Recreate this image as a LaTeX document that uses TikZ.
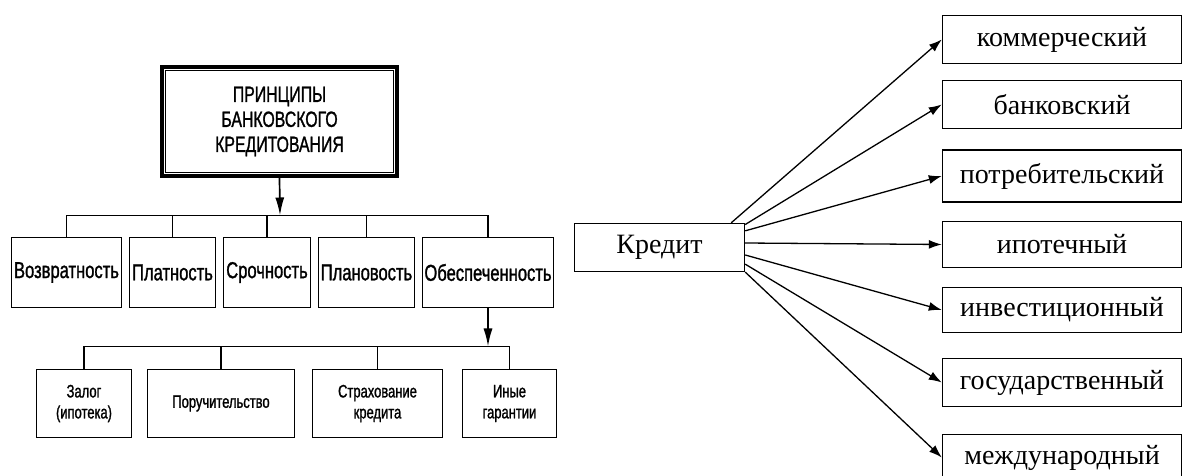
\documentclass[tikz,border=0pt]{standalone}
\usepackage{fontspec}
\setmainfont{Liberation Serif}
\newfontfamily\pfont{Liberation Sans}[FakeStretch=0.72,FakeBold=1.2]
\usetikzlibrary{arrows.meta,calc}

\tikzstyle{tbox}=[draw,line width=3.5pt,minimum width=235pt,minimum height=109pt,font=\pfont\fontsize{22}{25}\selectfont,align=center]
\tikzstyle{pbox}=[draw,line width=1.7pt,minimum height=70pt,inner sep=1pt,font=\pfont\fontsize{23}{24}\selectfont]
\tikzstyle{gbox}=[draw,line width=1.7pt,minimum height=68pt,inner sep=1pt,font=\pfont\fontsize{18}{21}\selectfont,align=center]
\tikzstyle{kbox}=[draw,line width=1.4pt,minimum width=239pt,minimum height=48pt,font=\fontsize{28}{30}\selectfont]
\tikzstyle{link}=[line width=1.7pt]
\tikzstyle{parr}=[line width=1.7pt,-{Latex[length=18pt,width=9pt]}]
\tikzstyle{karr}=[line width=1.3pt,-{Latex[length=13pt,width=9pt]}]

\begin{document}
\begin{tikzpicture}[x=1pt,y=1pt]
        \useasboundingbox (0,0) rectangle (1184,476);

        % principles of bank lending
        \draw (279.5,354.5) node[tbox](pr){ПРИНЦИПЫ\\БАНКОВСКОГО\\КРЕДИТОВАНИЯ};
        \draw[line width=1pt] ($(pr.north west)+(4.8,-4.8)$) rectangle ($(pr.south east)+(-4.8,4.8)$);

        \draw (66.5,203.5)  node[pbox,minimum width=110pt](voz){Возвратность};
        \draw (172.5,203.5) node[pbox,minimum width=86pt](plat){Платность};
        \draw (267,203.5)   node[pbox,minimum width=87pt](sroch){Срочность};
        \draw (366.5,203.5) node[pbox,minimum width=96pt](plan){Плановость};
        \draw (488,203.5)   node[pbox,minimum width=131pt](obesp){Обеспеченность};

        \draw (84,72.5)    node[gbox,minimum width=95pt](zal){Залог\\(ипотека)};
        \draw (221,72.5)   node[gbox,minimum width=147pt](por){Поручительство};
        \draw (377.5,72.5) node[gbox,minimum width=130pt](strah){Страхование\\кредита};
        \draw (509.5,72.5) node[gbox,minimum width=94pt](ini){Иные\\гарантии};

        \coordinate (bus1) at (280,260.5);
        \coordinate (bus2) at (488,129.5);

        \draw[parr] (pr.south) -- (bus1);
        \draw[link] (voz.north) |- (bus1) -| (obesp.north);
        \draw[link] (plat.north) -- (plat.north |- bus1);
        \draw[link] (sroch.north) -- (sroch.north |- bus1);
        \draw[link] (plan.north) -- (plan.north |- bus1);

        \draw[parr] (obesp.south) -- (bus2);
        \draw[link] (zal.north) |- (bus2) -| (ini.north);
        \draw[link] (por.north) -- (por.north |- bus2);
        \draw[link] (strah.north) -- (strah.north |- bus2);

        % kinds of credit
        \draw (659.5,228.5) node[kbox,minimum width=170pt](kr){Кредит};

        \draw (1062,436.5) node[kbox](kom){коммерческий};
        \draw (1062,371.5) node[kbox](bank){банковский};
        \draw (1062,300)   node[kbox,minimum height=52pt](potr){потребительский};
        \draw (1062,231.5) node[kbox,minimum height=46pt](ip){ипотечный};
        \draw (1062,166)   node[kbox,minimum height=45pt](inv){инвестиционный};
        \draw (1062,93.5)  node[kbox](gos){государственный};
        \draw (1062,18.5)  node[kbox,minimum height=46pt](mezh){международный};

        \path
            (kr.19)    edge[karr]  (kom.west)
            (kr.15)    edge[karr]  (bank.west)
            (kr.11.6)  edge[karr]  (potr.west)
            (kr.3)     edge[karr]  (ip.west)
            (kr.-5)    edge[karr]  (inv.west)
            (kr.-11.6) edge[karr]  (gos.west)
            (kr.-16.5) edge[karr]  (mezh.west)
        ;
\end{tikzpicture}
\end{document}
